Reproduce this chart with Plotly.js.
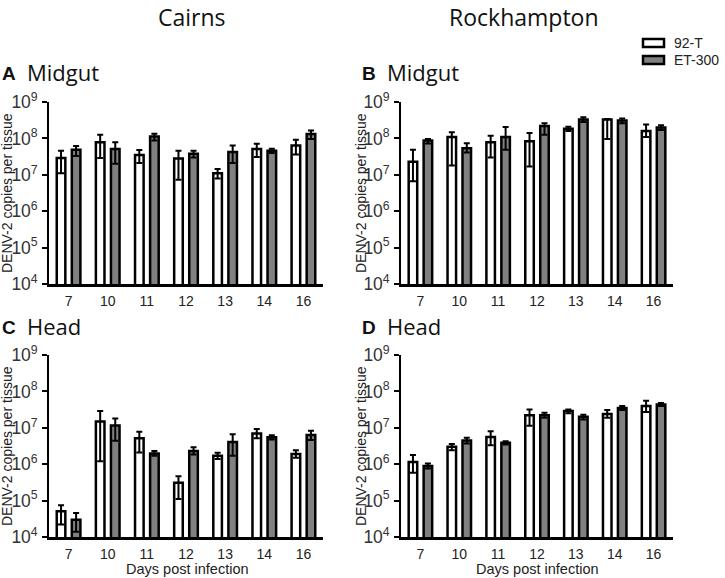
<!DOCTYPE html>
<html>
<head>
<meta charset="utf-8">
<script src="https://cdn.plot.ly/plotly-3.0.1.min.js"></script>
<style>html,body{margin:0;padding:0;background:#fff;}#chart{width:725px;height:578px;}</style>
</head>
<body>
<div id="chart"></div>
<script>
// ---- data ----
var days = ['7', '10', '11', '12', '13', '14', '16'];
var strainNames = ['92-T', 'ET-300'];

// Panel A: Cairns midgut
var cairnsMidgut92T     = [2.9e7, 7.9e7, 3.5e7, 2.8e7, 1.1e7, 5.1e7, 6.4e7];
var cairnsMidgut92THi   = [4.6e7, 1.26e8, 4.8e7, 4.6e7, 1.45e7, 7.1e7, 9.2e7];
var cairnsMidgut92TLo   = [1.1e7, 2.9e7, 2.1e7, 7.3e6, 7.9e6, 3.1e7, 3.6e7];
var cairnsMidgutET      = [4.9e7, 5.1e7, 1.13e8, 3.8e7, 4.2e7, 4.6e7, 1.32e8];
var cairnsMidgutETHi    = [6.2e7, 7.8e7, 1.34e8, 4.6e7, 6.4e7, 5.2e7, 1.66e8];
var cairnsMidgutETLo    = [3.3e7, 2.0e7, 8.8e7, 3.0e7, 2.1e7, 4.0e7, 9.6e7];

// Panel B: Rockhampton midgut
var rockMidgut92T       = [2.3e7, 1.09e8, 7.8e7, 8.3e7, 1.85e8, 3.3e8, 1.6e8];
var rockMidgut92THi     = [4.9e7, 1.47e8, 1.18e8, 1.4e8, 2.1e8, 3.4e8, 2.4e8];
var rockMidgut92TLo     = [6.6e6, 1.8e7, 3.0e7, 1.7e7, 1.6e8, 9.6e7, 1.1e8];
var rockMidgutET        = [8.8e7, 5.4e7, 1.09e8, 2.2e8, 3.3e8, 3.1e8, 2.0e8];
var rockMidgutETHi      = [9.6e7, 7.4e7, 2.05e8, 2.6e8, 3.8e8, 3.5e8, 2.3e8];
var rockMidgutETLo      = [7.2e7, 4.1e7, 4.9e7, 1.26e8, 2.8e8, 2.6e8, 1.7e8];

// Panel C: Cairns head
var cairnsHead92T       = [5.1e4, 1.5e7, 5.2e6, 3.1e5, 1.7e6, 7.0e6, 1.9e6];
var cairnsHead92THi     = [7.4e4, 2.9e7, 7.8e6, 4.7e5, 2.05e6, 9.2e6, 2.4e6];
var cairnsHead92TLo     = [2.2e4, 1.2e6, 2.1e6, 1.1e5, 1.4e6, 5.2e6, 1.5e6];
var cairnsHeadET        = [3.0e4, 1.15e7, 1.96e6, 2.3e6, 4.1e6, 5.5e6, 6.3e6];
var cairnsHeadETHi      = [4.6e4, 1.8e7, 2.3e6, 2.9e6, 6.6e6, 6.2e6, 8.3e6];
var cairnsHeadETLo      = [1.4e4, 4.4e6, 1.7e6, 1.85e6, 1.7e6, 4.8e6, 4.6e6];

// Panel D: Rockhampton head
var rockHead92T         = [1.15e6, 3.0e6, 5.6e6, 2.2e7, 2.9e7, 2.4e7, 4.0e7];
var rockHead92THi       = [1.8e6, 3.6e6, 8.0e6, 3.2e7, 3.2e7, 3.1e7, 5.5e7];
var rockHead92TLo       = [5.8e5, 2.4e6, 3.3e6, 1.14e7, 2.5e7, 1.9e7, 2.7e7];
var rockHeadET          = [8.9e5, 4.5e6, 3.9e6, 2.2e7, 2.0e7, 3.5e7, 4.4e7];
var rockHeadETHi        = [1.05e6, 5.3e6, 4.3e6, 2.6e7, 2.3e7, 4.0e7, 4.8e7];
var rockHeadETLo        = [7.6e5, 3.7e6, 3.5e6, 1.9e7, 1.7e7, 3.1e7, 4.0e7];

var columnTitles = ['Cairns', 'Rockhampton'];
var panelLetters = ['A', 'B', 'C', 'D'];
var panelTissues = ['Midgut', 'Midgut', 'Head', 'Head'];
var yTitle = 'DENV-2 copies per tissue';
var xTitle = 'Days post infection';

// ---- styling ----
var W = 725, H = 578;
function px(x) { return x / W; }
function py(y) { return 1 - y / H; }
var WHITE = '#ffffff', GRAY = '#808080';

function diff(a, b) { return a.map(function (v, i) { return Math.max(v - b[i], 0); }); }

function barTrace(name, y, hi, lo, color, xa, ya) {
  return {
    type: 'bar', name: name, x: days, y: y, xaxis: xa, yaxis: ya,
    showlegend: false,
    marker: { color: color, line: { color: '#000', width: 2.5 } },
    error_y: { type: 'data', symmetric: false, array: diff(hi, y), arrayminus: diff(y, lo),
               color: '#000', thickness: 2, width: 3 },
    hoverinfo: 'x+y'
  };
}

var traces = [
  barTrace(strainNames[0], cairnsMidgut92T, cairnsMidgut92THi, cairnsMidgut92TLo, WHITE, 'x', 'y'),
  barTrace(strainNames[1], cairnsMidgutET, cairnsMidgutETHi, cairnsMidgutETLo, GRAY, 'x', 'y'),
  barTrace(strainNames[0], rockMidgut92T, rockMidgut92THi, rockMidgut92TLo, WHITE, 'x2', 'y2'),
  barTrace(strainNames[1], rockMidgutET, rockMidgutETHi, rockMidgutETLo, GRAY, 'x2', 'y2'),
  barTrace(strainNames[0], cairnsHead92T, cairnsHead92THi, cairnsHead92TLo, WHITE, 'x3', 'y3'),
  barTrace(strainNames[1], cairnsHeadET, cairnsHeadETHi, cairnsHeadETLo, GRAY, 'x3', 'y3'),
  barTrace(strainNames[0], rockHead92T, rockHead92THi, rockHead92TLo, WHITE, 'x4', 'y4'),
  barTrace(strainNames[1], rockHeadET, rockHeadETHi, rockHeadETLo, GRAY, 'x4', 'y4')
];

var tickFont = { family: 'Arial, Liberation Sans, sans-serif', size: 14, color: '#222' };

function xAxis(domain, anchor) {
  return {
    domain: domain, anchor: anchor, type: 'category', range: [-0.5, 6.5],
    showline: true, linecolor: '#000', linewidth: 2.5, showgrid: false, zeroline: false,
    ticks: 'outside', ticklen: 3, tickcolor: 'rgba(0,0,0,0)', tickfont: tickFont, fixedrange: true
  };
}
function yAxis(domain, anchor) {
  return {
    domain: domain, anchor: anchor, type: 'log', range: [4, 9], dtick: 1,
    exponentformat: 'power', showexponent: 'all',
    showline: true, linecolor: '#000', linewidth: 2.5, showgrid: false, zeroline: false,
    ticks: 'outside', ticklen: 5, tickwidth: 2, tickcolor: '#000',
    tickfont: { family: 'Arial, Liberation Sans, sans-serif', size: 14, color: '#333' },
    ticklabelstandoff: 1, fixedrange: true
  };
}

var xdA = [px(49), px(323)], xdB = [px(401), px(673)];
var ydTop = [py(284), py(102)], ydBot = [py(537), py(355)];

var titleFont = { family: 'Open Sans, sans-serif', size: 23, color: '#111' };
var tissueFont = { family: 'Open Sans, sans-serif', size: 22, color: '#111' };
var letterFont = { family: 'Arial, Liberation Sans, sans-serif', size: 19, color: '#111' };
var labelFont = { family: 'Arial, Liberation Sans, sans-serif', size: 14, color: '#222' };

function ann(text, x, y, font, opts) {
  var a = { text: text, x: px(x), y: py(y), xref: 'paper', yref: 'paper', showarrow: false,
            font: font, xanchor: 'center', yanchor: 'middle' };
  for (var k in (opts || {})) a[k] = opts[k];
  return a;
}

var annotations = [
  ann(columnTitles[0], 192, 0, titleFont, { yanchor: 'top', borderpad: 0 }),
  ann(columnTitles[1], 524, 0, titleFont, { yanchor: 'top', borderpad: 0 }),
  ann('<b>' + panelLetters[0] + '</b>', 0, 73, letterFont, { xanchor: 'left' }),
  ann(panelTissues[0], 25, 72, tissueFont, { xanchor: 'left' }),
  ann('<b>' + panelLetters[1] + '</b>', 360, 73, letterFont, { xanchor: 'left' }),
  ann(panelTissues[1], 385, 72, tissueFont, { xanchor: 'left' }),
  ann('<b>' + panelLetters[2] + '</b>', 0, 327, letterFont, { xanchor: 'left' }),
  ann(panelTissues[2], 25, 326, tissueFont, { xanchor: 'left' }),
  ann('<b>' + panelLetters[3] + '</b>', 360, 327, letterFont, { xanchor: 'left' }),
  ann(panelTissues[3], 385, 326, tissueFont, { xanchor: 'left' }),
  ann(yTitle, 7, 193, labelFont, { textangle: -90 }),
  ann(yTitle, 361, 193, labelFont, { textangle: -90 }),
  ann(yTitle, 7, 446, labelFont, { textangle: -90 }),
  ann(yTitle, 361, 446, labelFont, { textangle: -90 }),
  ann(xTitle, 187, 569, { family: 'Arial, Liberation Sans, sans-serif', size: 14.5, color: '#222' }),
  ann(xTitle, 537, 569, { family: 'Arial, Liberation Sans, sans-serif', size: 14.5, color: '#222' }),
  ann(strainNames[0], 672, 43, labelFont, { xanchor: 'left' }),
  ann(strainNames[1], 672, 60, labelFont, { xanchor: 'left' })
];

var shapes = [
  { type: 'rect', xref: 'paper', yref: 'paper', x0: px(643), x1: px(664), y0: py(47), y1: py(39),
    fillcolor: WHITE, line: { color: '#000', width: 2.5 } },
  { type: 'rect', xref: 'paper', yref: 'paper', x0: px(643), x1: px(664), y0: py(64), y1: py(56),
    fillcolor: GRAY, line: { color: '#000', width: 2.5 } }
];

var layout = {
  width: W, height: H, margin: { l: 0, r: 0, t: 0, b: 0 },
  paper_bgcolor: '#fff', plot_bgcolor: '#fff',
  barmode: 'group', bargap: 0.23, bargroupgap: 0.43,
  showlegend: false,
  xaxis: xAxis(xdA, 'y'), yaxis: yAxis(ydTop, 'x'),
  xaxis2: xAxis(xdB, 'y2'), yaxis2: yAxis(ydTop, 'x2'),
  xaxis3: xAxis(xdA, 'y3'), yaxis3: yAxis(ydBot, 'x3'),
  xaxis4: xAxis(xdB, 'y4'), yaxis4: yAxis(ydBot, 'x4'),
  annotations: annotations, shapes: shapes
};

Plotly.newPlot('chart', traces, layout, { displayModeBar: false, staticPlot: true });
</script>
</body>
</html>
